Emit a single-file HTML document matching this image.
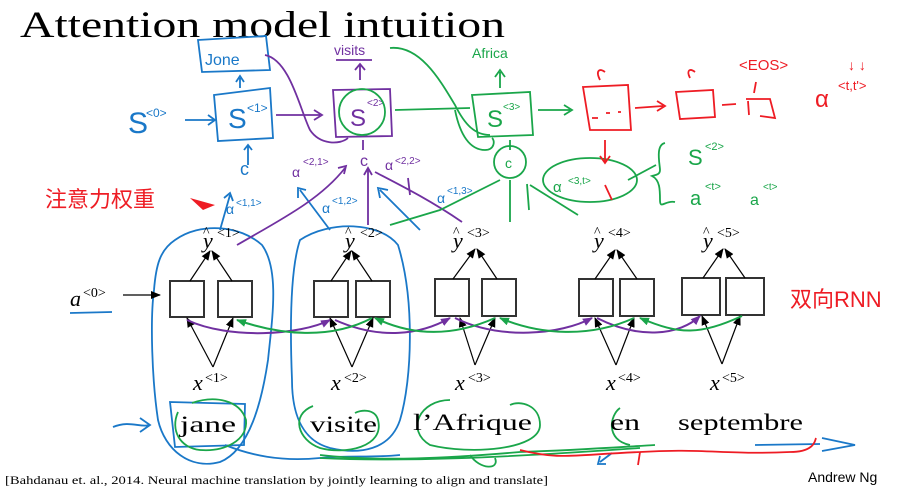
<!DOCTYPE html>
<html><head><meta charset="utf-8"><style>
html,body{margin:0;padding:0;background:#fff;}
svg{display:block}
.h{font-family:"Liberation Sans",sans-serif;}
.s{font-family:"Liberation Serif",serif;}
</style></head><body>
<svg width="906" height="492" viewBox="0 0 906 492" xmlns="http://www.w3.org/2000/svg">
<defs>
<marker id="ak" markerUnits="userSpaceOnUse" markerWidth="10" markerHeight="10" refX="9" refY="5" orient="auto"><path d="M0,1 L10,5 L0,9 z" fill="#000"/></marker>
<marker id="ap" markerUnits="userSpaceOnUse" markerWidth="10" markerHeight="10" refX="9" refY="5" orient="auto"><path d="M0,1 L10,5 L0,9 z" fill="#7030a0"/></marker>
<marker id="ag" markerUnits="userSpaceOnUse" markerWidth="10" markerHeight="10" refX="9" refY="5" orient="auto"><path d="M0,1 L10,5 L0,9 z" fill="#1aa64a"/></marker>
</defs>
<text x="20" y="37" class="s" font-size="37" textLength="485" lengthAdjust="spacingAndGlyphs">Attention model intuition</text>

<!-- blue top -->
<g fill="none" stroke="#1a78c8" stroke-width="1.8">
<path d="M198,40 L266,36 L270,70 L202,72 z"/>
<path d="M240,88 L240,78 M236,82 L240,76 L244,82"/>
<path d="M214,95 L270,88 L273,138 L218,141 z"/>
<path d="M185,120 L215,120 M208,115 L215,120 L208,125"/>
<path d="M248,165 L248,145 M244,150 L248,145 L252,150"/>
<path d="M220,230 L230,195 M224,198 L230,193 L233,201"/>
<path d="M330,230 L300,190 M298,198 L298,188 L306,190"/>
<path d="M420,230 L380,190 M380,198 L378,188 L388,190"/>
<path d="M70,313 L112,312"/>
<path d="M113,427 C130,420 140,428 150,425 M140,418 L150,425 L140,432"/>
<path d="M175,240 C200,222 240,225 262,245 C280,270 272,320 268,360 C262,400 250,450 220,462 C190,470 165,450 158,420 C152,380 150,320 154,290 C156,265 160,250 175,240 z"/>
<path d="M300,240 C330,220 380,222 398,245 C415,300 412,380 400,420 C390,450 360,455 330,448 C300,440 292,410 292,380 C290,330 290,270 300,240 z"/>
<path d="M170,402 L245,404 L244,445 L175,447 z"/>
<path d="M225,445 C250,455 280,462 320,458 C350,455 370,458 400,455"/>
<path d="M755,445 L820,444 M822,438 L855,445 L822,451"/>
<path d="M612,453 L600,462 M600,456 L598,464 L606,464"/>
</g>
<text x="128" y="133" class="h" font-size="30" fill="#1a78c8">S</text>
<text x="146" y="117" class="h" font-size="12" fill="#1a78c8">&lt;0&gt;</text>
<text x="205" y="65" class="h" font-size="16" fill="#1a78c8">Jone</text>
<text x="228" y="128" class="h" font-size="28" fill="#1a78c8">S</text>
<text x="247" y="112" class="h" font-size="12" fill="#1a78c8">&lt;1&gt;</text>
<text x="240" y="175" class="h" font-size="18" fill="#1a78c8">c</text>
<text x="226" y="214" class="h" font-size="14" fill="#1a78c8">α</text>
<text x="236" y="206" class="h" font-size="10" fill="#1a78c8">&lt;1,1&gt;</text>
<text x="322" y="213" class="h" font-size="14" fill="#1a78c8">α</text>
<text x="332" y="204" class="h" font-size="10" fill="#1a78c8">&lt;1,2&gt;</text>
<text x="437" y="203" class="h" font-size="14" fill="#1a78c8">α</text>
<text x="447" y="194" class="h" font-size="10" fill="#1a78c8">&lt;1,3&gt;</text>

<!-- purple -->
<g fill="none" stroke="#7030a0" stroke-width="1.8">
<path d="M333,90 L390,89 L392,136 L336,137 z"/>
<path d="M360,80 L360,65 M355,70 L360,64 L365,70"/>
<path d="M336,60 L372,60"/>
<path d="M276,115 L320,115 M314,110 L322,115 L314,120"/>
<path d="M265,55 C290,60 300,110 310,130 C320,145 340,145 348,138"/>
<path d="M363,150 L363,140"/>
<path d="M237,245 C280,220 320,200 345,168 M338,168 L346,166 L344,174"/>
<path d="M368,225 L368,170 M364,175 L368,168 L372,175"/>
<path d="M462,222 C430,200 400,185 375,172"/>
<path d="M408,178 L410,195"/>
</g>
<text x="334" y="55" class="h" font-size="14" fill="#7030a0">visits</text>
<text x="350" y="126" class="h" font-size="24" fill="#7030a0">S</text>
<text x="367" y="106" class="h" font-size="10" fill="#7030a0">&lt;2&gt;</text>
<text x="360" y="166" class="h" font-size="16" fill="#7030a0">c</text>
<text x="292" y="177" class="h" font-size="14" fill="#7030a0">α</text>
<text x="303" y="165" class="h" font-size="10" fill="#7030a0">&lt;2,1&gt;</text>
<text x="385" y="170" class="h" font-size="14" fill="#7030a0">α</text>
<text x="395" y="164" class="h" font-size="10" fill="#7030a0">&lt;2,2&gt;</text>

<!-- green -->
<g fill="none" stroke="#1aa64a" stroke-width="1.8">
<circle cx="362" cy="112" r="23"/>
<path d="M390,48 C420,45 440,80 455,105 C465,125 475,135 490,135"/>
<path d="M395,110 L470,108"/>
<path d="M472,95 L530,92 L533,135 L478,137 z"/>
<path d="M500,88 L500,72 M495,77 L500,70 L505,77"/>
<path d="M538,110 L570,110 M564,105 L572,110 L564,115"/>
<path d="M455,110 C460,135 470,150 485,150 C495,150 495,140 492,138"/>
<circle cx="510" cy="162" r="16"/>
<path d="M510,150 L510,140"/>
<path d="M500,180 L440,210 L390,225"/>
<path d="M510,222 L510,180 M529,210 L527,184 M578,215 L530,185"/>
<ellipse cx="590" cy="180" rx="47" ry="22"/>
<path d="M656,165 L628,180"/>
<path d="M665,143 C655,145 660,165 660,170 C660,175 655,175 652,176 C660,180 660,190 660,200 C660,210 665,200 675,202"/>
<path d="M192,403 C215,395 240,400 246,420 C248,440 225,452 200,450 C180,448 170,430 178,412"/>
<path d="M313,406 C290,415 298,440 320,448 C345,455 385,447 378,420 C375,408 360,410 355,413"/>
<path d="M450,400 C420,400 405,430 430,445 C470,455 540,450 540,425 C540,405 520,400 510,405"/>
<path d="M620,408 C610,415 605,440 630,445"/>
<path d="M320,455 C380,462 450,458 520,452 C580,450 620,447 655,445 M320,458 C400,462 500,458 640,448"/>
<path d="M470,455 C480,470 500,470 495,458"/>
</g>
<text x="472" y="58" class="h" font-size="14" fill="#1aa64a">Africa</text>
<text x="487" y="127" class="h" font-size="24" fill="#1aa64a">S</text>
<text x="503" y="110" class="h" font-size="10" fill="#1aa64a">&lt;3&gt;</text>
<text x="505" y="168" class="h" font-size="14" fill="#1aa64a">c</text>
<text x="553" y="192" class="h" font-size="15" fill="#1aa64a">α</text>
<text x="568" y="184" class="h" font-size="10" fill="#1aa64a">&lt;3,t&gt;</text>
<text x="688" y="165" class="h" font-size="22" fill="#1aa64a">S</text>
<text x="705" y="150" class="h" font-size="11" fill="#1aa64a">&lt;2&gt;</text>
<text x="690" y="205" class="h" font-size="20" fill="#1aa64a">a</text>
<text x="705" y="190" class="h" font-size="11" fill="#1aa64a">&lt;t&gt;</text>
<text x="750" y="205" class="h" font-size="16" fill="#1aa64a">a</text>
<text x="763" y="190" class="h" font-size="10" fill="#1aa64a">&lt;t&gt;</text>

<!-- red -->
<g fill="none" stroke="#ee1c24" stroke-width="1.8">
<path d="M583,87 L628,85 L631,130 L590,130 z"/>
<path d="M592,118 L598,118 M606,113 L610,113 M618,112 L621,112"/>
<path d="M635,108 L663,106 M657,101 L665,106 L657,111"/>
<path d="M676,92 L713,90 L715,117 L680,119 z"/>
<path d="M722,105 L736,104"/>
<path d="M746,99 L770,99 L775,118 L760,116 M748,101 L749,115"/>
<path d="M612,200 L605,185"/>
<path d="M600,80 C595,70 600,68 605,72"/>
<path d="M690,78 C686,70 690,68 695,72"/>
<path d="M754,93 L756,82"/>
<path d="M605,140 L605,162 M600,156 L605,163 L610,156"/>
<path d="M520,450 C560,460 570,455 640,452 C700,448 730,455 790,452 C815,452 815,440 816,438"/>
<path d="M640,452 L638,465"/>
</g>
<text x="739" y="70" class="h" font-size="15" fill="#ee1c24">&lt;EOS&gt;</text>
<text x="815" y="107" class="h" font-size="24" fill="#ee1c24">α</text>
<text x="838" y="90" class="h" font-size="13" fill="#ee1c24">&lt;t,t'&gt;</text>
<text x="848" y="70" class="h" font-size="14" fill="#ee1c24">↓ ↓</text>
<text x="45" y="207" class="h" font-size="22" fill="#ee1c24" style="font-family:'Liberation Sans','Noto Sans CJK SC',sans-serif">注意力权重</text>
<path d="M190,198 L215,205 L203,210 z" fill="#ee1c24"/>
<text x="790" y="307" class="h" font-size="22" fill="#ee1c24" style="font-family:'Liberation Sans','Noto Sans CJK SC',sans-serif">双向RNN</text>

<!-- RNN -->
<g fill="#fff" stroke="#333" stroke-width="2">
<rect x="170" y="281" width="34" height="36"/><rect x="218" y="281" width="34" height="36"/>
<rect x="314" y="281" width="34" height="36"/><rect x="356" y="281" width="34" height="36"/>
<rect x="435" y="279" width="34" height="37"/><rect x="482" y="279" width="34" height="37"/>
<rect x="579" y="279" width="34" height="37"/><rect x="620" y="279" width="34" height="37"/>
<rect x="682" y="278" width="38" height="37"/><rect x="726" y="278" width="38" height="37"/>
</g>
<g stroke="#000" stroke-width="1.2" fill="none" marker-end="url(#ak)">
<path d="M190,281 L210,251"/><path d="M232,281 L212,251"/>
<path d="M331,281 L351,251"/><path d="M372,281 L352,251"/>
<path d="M453,279 L475,249"/><path d="M497,279 L477,249"/>
<path d="M595,279 L615,250"/><path d="M637,279 L617,250"/>
<path d="M703,278 L723,249"/><path d="M745,278 L725,249"/>
<path d="M213,367 L187,318"/><path d="M213,367 L233,318"/>
<path d="M352,367 L330,318"/><path d="M352,367 L373,318"/>
<path d="M475,365 L460,318"/><path d="M475,365 L495,318"/>
<path d="M616,365 L595,318"/><path d="M616,365 L634,318"/>
<path d="M722,364 L702,316"/><path d="M722,364 L740,316"/>
<path d="M123,295 L160,295"/>
</g>
<g stroke="#7030a0" stroke-width="2" fill="none" marker-end="url(#ap)">
<path d="M187,320 C230,340 300,335 330,320"/>
<path d="M335,320 C380,340 420,335 450,318"/>
<path d="M455,318 C500,340 560,335 592,318"/>
<path d="M597,318 C640,340 680,335 700,316"/>
</g>
<g stroke="#1aa64a" stroke-width="2" fill="none" marker-end="url(#ag)">
<path d="M742,316 C700,335 680,335 640,318"/>
<path d="M634,318 C590,338 540,335 500,318"/>
<path d="M495,318 C450,338 410,335 375,318"/>
<path d="M372,318 C330,340 280,335 237,320"/>
</g>
<g class="s" font-style="italic" font-size="22">
<text x="203" y="248">y</text><text x="345" y="248">y</text><text x="453" y="248">y</text><text x="594" y="248">y</text><text x="703" y="248">y</text>
<text x="193" y="390">x</text><text x="331" y="390">x</text><text x="455" y="390">x</text><text x="606" y="390">x</text><text x="710" y="390">x</text>
<text x="70" y="306">a</text>
</g>
<g class="s" font-size="14">
<text x="203" y="236">^</text><text x="345" y="236">^</text><text x="453" y="236">^</text><text x="594" y="236">^</text><text x="703" y="236">^</text>
<text x="217" y="237">&lt;1&gt;</text><text x="360" y="237">&lt;2&gt;</text><text x="467" y="237">&lt;3&gt;</text><text x="608" y="237">&lt;4&gt;</text><text x="717" y="237">&lt;5&gt;</text>
<text x="205" y="382">&lt;1&gt;</text><text x="344" y="382">&lt;2&gt;</text><text x="468" y="382">&lt;3&gt;</text><text x="618" y="382">&lt;4&gt;</text><text x="722" y="382">&lt;5&gt;</text>
<text x="83" y="297">&lt;0&gt;</text>
</g>
<g class="s" font-size="23">
<text x="180" y="432" textLength="56" lengthAdjust="spacingAndGlyphs">jane</text>
<text x="310" y="432" textLength="67" lengthAdjust="spacingAndGlyphs">visite</text>
<text x="413" y="430" textLength="119" lengthAdjust="spacingAndGlyphs">l’Afrique</text>
<text x="610" y="430" textLength="30" lengthAdjust="spacingAndGlyphs">en</text>
<text x="678" y="430" textLength="125" lengthAdjust="spacingAndGlyphs">septembre</text>
</g>
<text x="5" y="484" class="s" font-size="12" textLength="543" lengthAdjust="spacingAndGlyphs">[Bahdanau et. al., 2014. Neural machine translation by jointly learning to align and translate]</text>
<text x="808" y="482" class="h" font-size="14">Andrew Ng</text>
</svg>
</body></html>
